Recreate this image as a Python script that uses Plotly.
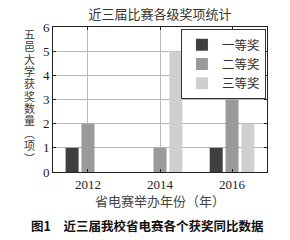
import plotly.graph_objects as go

years = [2012, 2014, 2016]
series_names = ["一等奖", "二等奖", "三等奖"]
first_prize = [1, 0, 1]
second_prize = [2, 1, 3]
third_prize = [0, 5, 2]
colors = ["#3f3f3f", "#9a9a9a", "#cfcfcf"]
title_text = "近三届比赛各级奖项统计"
x_title = "省电赛举办年份（年）"
y_title_chars = ["五", "邑", "大", "学", "获", "奖", "数", "量", "︵", "项", "︶"]
caption = "图1　近三届我校省电赛各个获奖同比数据"
y_ticks = [0, 1, 2, 3, 4, 5, 6]

SERIF = "Liberation Serif, Noto Sans CJK SC"
SANS = "Noto Sans CJK SC"

fig = go.Figure()
for name, vals, col in zip(series_names, [first_prize, second_prize, third_prize], colors):
    fig.add_trace(go.Bar(x=years, y=vals, name=name, marker=dict(color=col, line=dict(width=0))))

W, H = 290, 240
L, R, T, B = 53, 23, 27, 68
pw = W - L - R
ph = H - T - B

y_title_text = "<br>".join('<span style="font-size:11px">%s</span>' % c for c in y_title_chars)

annotations = [
    dict(text=y_title_text, xref="paper", yref="paper",
         x=(29 - L) / pw, y=(H - B - 97) / ph,
         xanchor="center", yanchor="middle", showarrow=False,
         font=dict(family=SERIF, size=9.5, color="#3a3a3a")),
    dict(text=caption, xref="paper", yref="paper",
         x=(147 - L) / pw, y=(H - B - 225) / ph,
         xanchor="center", yanchor="middle", showarrow=False,
         font=dict(family=SANS, size=12.5, color="#111", weight="bold")),
]

fig.update_layout(
    width=W, height=H,
    margin=dict(l=L, r=R, t=T, b=B, pad=0),
    paper_bgcolor="white", plot_bgcolor="white",
    barmode="group", bargap=0.34, bargroupgap=0.18,
    title=dict(text=title_text, x=0.5, xref="paper", y=1 - 14 / H, yref="container",
               xanchor="center", yanchor="middle",
               font=dict(family=SERIF, size=13, color="#333")),
    legend=dict(x=0.995, y=0.985, xanchor="right", yanchor="top",
                bgcolor="white", bordercolor="#333", borderwidth=1,
                font=dict(family=SERIF, size=12.5, color="#333"),
                itemwidth=30, tracegroupgap=0, itemsizing="constant"),
    xaxis=dict(range=[2011.03, 2016.97], tickvals=years, ticktext=[str(y) for y in years],
               showgrid=True, gridcolor="#b8b8b8", gridwidth=1,
               showline=True, linecolor="#222", linewidth=1, mirror="ticks",
               ticks="inside", ticklen=3, tickcolor="#222", zeroline=False,
               tickfont=dict(family=SERIF, size=13, color="#222"),
               title=dict(text=x_title, standoff=6, font=dict(family=SERIF, size=13, color="#444"))),
    yaxis=dict(range=[0, 6], tickvals=y_ticks,
               showgrid=True, gridcolor="#b8b8b8", gridwidth=1,
               showline=True, linecolor="#222", linewidth=1, mirror="ticks",
               ticks="inside", ticklen=3, tickcolor="#222", zeroline=False,
               tickfont=dict(family=SERIF, size=13, color="#222")),
    annotations=annotations,
    showlegend=True,
)

fig.write_html("out.html")
